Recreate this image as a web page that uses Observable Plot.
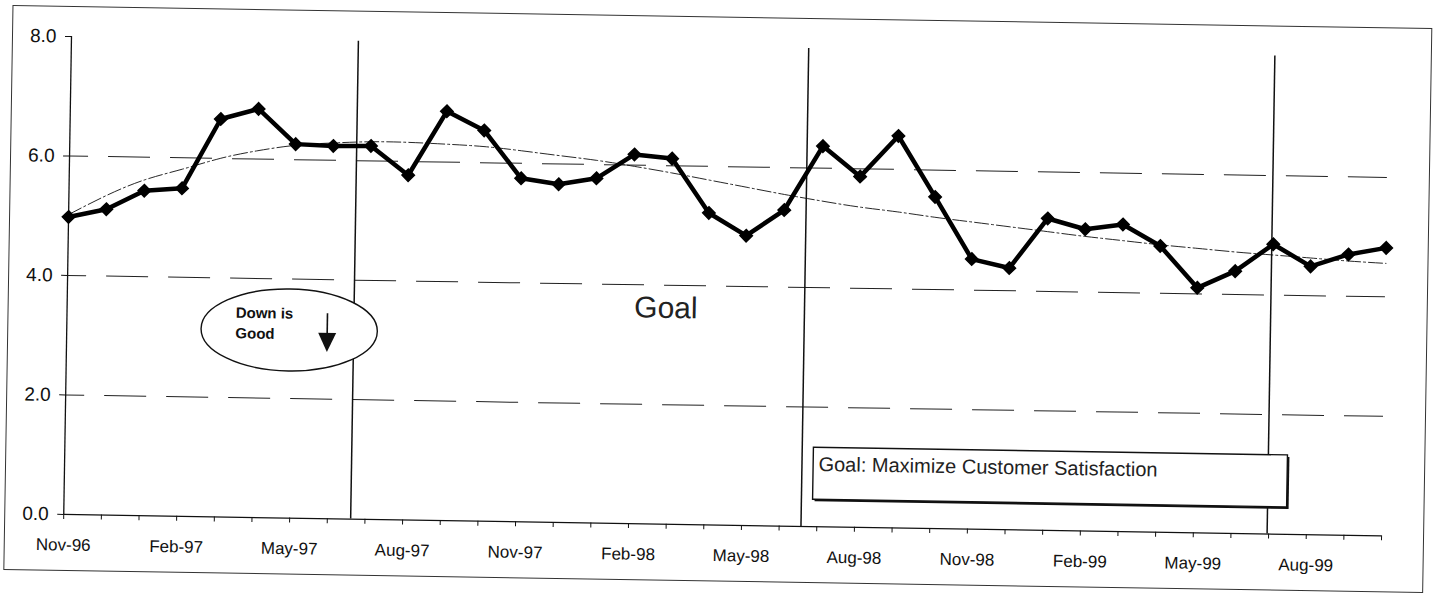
<!DOCTYPE html>
<html>
<head>
<meta charset="utf-8">
<script src="https://cdn.jsdelivr.net/npm/d3@7"></script>
<script src="https://cdn.jsdelivr.net/npm/@observablehq/plot@0.6"></script>
<style>
  html, body { margin: 0; padding: 0; background: #fff; overflow: hidden; }
  #wrap { position: absolute; left: 0; top: 0; width: 1437px; height: 594px;
          transform: rotate(0.93deg); transform-origin: 71px 36px; }
  #frame { position: absolute; left: 12px; top: 6px; width: 1420px; height: 565px;
           border: 1px solid #333; box-sizing: border-box; }
  #chart { position: absolute; left: 0; top: 0; }
  #chart svg { overflow: visible; }
  #chart g[aria-label^="y-axis"] text { font-size: 19px; }
  #chart g[aria-label^="x-axis"] text { font-size: 17px; }
</style>
</head>
<body>
<div id="wrap">
  <div id="frame"></div>
  <div id="chart"></div>
</div>
<script>
// ---- data ----
const months = ["Nov-96","Dec-96","Jan-97","Feb-97","Mar-97","Apr-97","May-97","Jun-97","Jul-97","Aug-97","Sep-97","Oct-97",
                "Nov-97","Dec-97","Jan-98","Feb-98","Mar-98","Apr-98","May-98","Jun-98","Jul-98","Aug-98","Sep-98","Oct-98",
                "Nov-98","Dec-98","Jan-99","Feb-99","Mar-99","Apr-99","May-99","Jun-99","Jul-99","Aug-99","Sep-99","Oct-99"];
const values = [4.98, 5.12, 5.44, 5.49, 6.66, 6.84, 6.26, 6.24, 6.25, 5.77, 6.85, 6.54,
                5.75, 5.66, 5.77, 6.18, 6.12, 5.22, 4.85, 5.29, 6.37, 5.87, 6.56, 5.55,
                4.52, 4.38, 5.22, 5.05, 5.14, 4.79, 4.10, 4.39, 4.85, 4.49, 4.70, 4.82];
const trend = [5.02, 5.35, 5.62, 5.81, 6.00, 6.14, 6.24, 6.29, 6.32, 6.32, 6.30, 6.27,
               6.21, 6.14, 6.07, 5.98, 5.88, 5.77, 5.66, 5.55, 5.45, 5.36, 5.29, 5.21,
               5.14, 5.07, 5.00, 4.93, 4.87, 4.81, 4.76, 4.71, 4.67, 4.63, 4.59, 4.56];
const yTicks = [0, 2, 4, 6, 8];
const gridValues = [2, 4, 6];
const dividers = [7.62, 19.58, 31.96];          // month positions of the vertical lines
const goalText = "Goal";
const boxText = "Goal: Maximize Customer Satisfaction";
const noteLines = ["Down is", "Good"];

const table = months.map((m, i) => ({i, month: m, value: values[i], trend: trend[i]}));

// ellipse + arrow annotation drawn through the plot's scales
function downIsGood(index, scales) {
  const x = scales.x, y = scales.y;
  const g = d3.create("svg:g");
  const cx = 5.92, cy = 3.14, rxM = 2.34, ryV = 0.686;
  g.append("ellipse")
    .attr("cx", x(cx)).attr("cy", y(cy))
    .attr("rx", x(cx + rxM) - x(cx)).attr("ry", y(cy - ryV) - y(cy))
    .attr("fill", "white").attr("stroke", "#111").attr("stroke-width", 1.4);
  const ax = x(6.93);
  g.append("line").attr("x1", ax).attr("x2", ax).attr("y1", y(3.43)).attr("y2", y(3.08))
    .attr("stroke", "#111").attr("stroke-width", 1.6);
  g.append("path")
    .attr("d", `M${ax - 9},${y(3.10)}L${ax + 9},${y(3.10)}L${ax},${y(2.78)}Z`)
    .attr("fill", "#111");
  return g.node();
}

const plot = Plot.plot({
  width: 1437,
  height: 594,
  marginLeft: 71,
  marginRight: 48,
  marginTop: 36,
  marginBottom: 80,
  style: {fontFamily: "'Liberation Sans', Arial, sans-serif", fontSize: "17px", color: "#111", background: "transparent"},
  x: {
    type: "linear",
    domain: [0, months.length - 1],
    ticks: months.map((m, i) => i),
    tickFormat: i => (i % 3 === 0 ? months[i] : ""),
    tickSize: 5,
    tickPadding: 19,
    label: null
  },
  y: {
    domain: [0, 8],
    ticks: yTicks,
    tickFormat: d => d.toFixed(1),
    tickSize: 6,
    tickPadding: 9,
    label: null
  },
  marks: [
    Plot.ruleY(gridValues, {stroke: "#222", strokeWidth: 1, strokeDasharray: "42,20", strokeDashoffset: 23}),
    Plot.ruleX(dividers, {y1: 0, y2: 8, stroke: "#111", strokeWidth: 1.5}),
    Plot.ruleX([0], {stroke: "#111", strokeWidth: 1.3}),
    Plot.ruleY([0], {stroke: "#111", strokeWidth: 1.3}),
    Plot.line(table, {x: "i", y: "trend", curve: "natural", stroke: "#111", strokeWidth: 0.9, strokeDasharray: "14,3,2,3"}),
    Plot.line(table, {x: "i", y: "value", stroke: "#000", strokeWidth: 4.5, strokeLinejoin: "round"}),
    Plot.dot(table, {x: "i", y: "value", symbol: "diamond2", r: 5.6, fill: "#000", stroke: "#000"}),
    downIsGood,
    Plot.text(noteLines, {x: 4.48, y: (d, i) => [3.418, 3.074][i], text: d => d, textAnchor: "start",
      fontWeight: "bold", fontSize: 15, fill: "#111"}),
    Plot.rect([boxText], {x1: 19.89, x2: 32.48, y1: 0.45, y2: 1.32, fill: "#111", dx: 2, dy: 2}),
    Plot.rect([boxText], {x1: 19.89, x2: 32.48, y1: 0.45, y2: 1.32, fill: "white", stroke: "#111", strokeWidth: 1.4}),
    Plot.text([boxText], {x: 20.02, y: 1.04, text: d => d, textAnchor: "start", fontSize: 20, fill: "#222"}),
    Plot.text([goalText], {x: 15.9, y: 3.615, text: d => d, textAnchor: "middle", fontSize: 30, fill: "#222"})
  ]
});
document.getElementById("chart").appendChild(plot);
</script>
</body>
</html>
